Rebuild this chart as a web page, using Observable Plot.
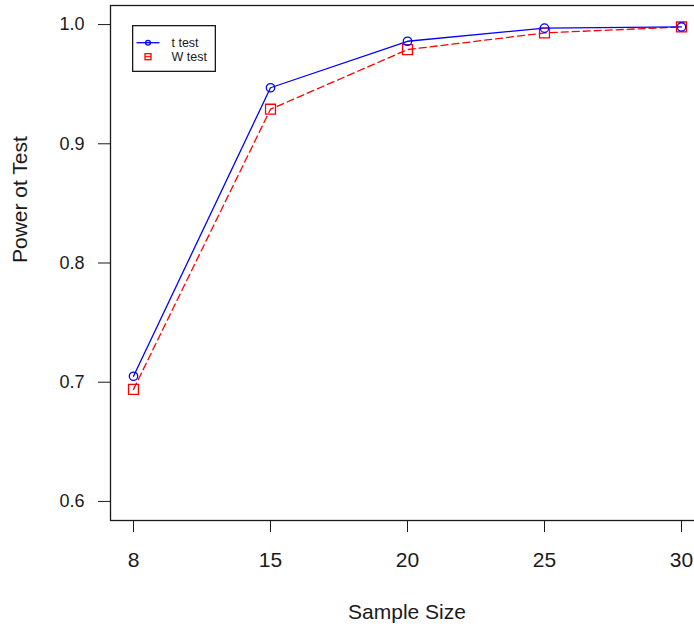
<!DOCTYPE html>
<html>
<head>
<meta charset="utf-8">
<script src="https://cdn.jsdelivr.net/npm/d3@7"></script>
<script src="https://cdn.jsdelivr.net/npm/@observablehq/plot@0.6"></script>
<style>
  html, body { margin: 0; padding: 0; background: #fff; }
  #wrap { position: relative; width: 694px; height: 630px; overflow: hidden; font-family: "Liberation Sans", Arial, sans-serif; }
  #legend { position: absolute; left: 132px; top: 25px; }
</style>
</head>
<body>
<div id="wrap"></div>
<script>
// Data
const sampleSizes = [8, 15, 20, 25, 30];
const tPower = [0.705, 0.947, 0.986, 0.997, 0.998];
const wPower = [0.694, 0.929, 0.979, 0.993, 0.998];
const yTicks = [0.6, 0.7, 0.8, 0.9, 1.0];

const rows = [];
sampleSizes.forEach((n, i) => {
  rows.push({n, power: tPower[i], test: "t test"});
  rows.push({n, power: wPower[i], test: "W test"});
});
const tRows = rows.filter(d => d.test === "t test");
const wRows = rows.filter(d => d.test === "W test");

const BLUE = "#0000ff", RED = "#ff0000", INK = "#1a1a1a";

const chart = Plot.plot({
  width: 694,
  height: 630,
  marginLeft: 110,
  marginRight: -9,
  marginTop: 5,
  marginBottom: 110,
  style: {fontFamily: "'Liberation Sans', Arial, sans-serif", color: INK, background: "#fff"},
  x: {type: "point", domain: sampleSizes, padding: 0.16},
  y: {domain: [0.584, 1.016]},
  marks: [
    Plot.frame({stroke: INK, strokeWidth: 1.3}),
    Plot.axisY({ticks: yTicks, tickFormat: d3.format(".1f"), tickSize: 12, tickPadding: 14, fontSize: 18, label: null, stroke: INK}),
    Plot.axisX({ticks: sampleSizes, tickSize: 12, tickPadding: 20, fontSize: 21, label: null, stroke: INK}),
    Plot.line(wRows, {x: "n", y: "power", stroke: RED, strokeWidth: 1.3, strokeDasharray: "7,4"}),
    Plot.line(tRows, {x: "n", y: "power", stroke: BLUE, strokeWidth: 1.3}),
    Plot.dot(wRows, {x: "n", y: "power", symbol: "square", r: 5.6, stroke: RED, strokeWidth: 1.3, fill: "none"}),
    Plot.dot(tRows, {x: "n", y: "power", symbol: "circle", r: 4.2, stroke: BLUE, strokeWidth: 1.3, fill: "none"}),
    Plot.text(["Sample Size"], {frameAnchor: "bottom", dy: 92, text: d => d, fontSize: 21, fill: INK, lineAnchor: "middle"}),
    Plot.text(["Power ot Test"], {frameAnchor: "left", dx: -90, rotate: -90, text: d => d, fontSize: 21, fill: INK, lineAnchor: "middle"})
  ]
});
document.getElementById("wrap").appendChild(chart);

// Legend (drawn as an overlay, like R's legend())
const legendItems = [
  {label: "t test", color: BLUE, symbol: "circle", dash: null},
  {label: "W test", color: RED, symbol: "square", dash: "7,4"}
];
const lw = 84, lh = 47;
const leg = d3.select("#wrap").append("svg")
  .attr("id", "legend").attr("width", lw + 1).attr("height", lh + 1);
leg.append("rect").attr("x", 0.65).attr("y", 0.65).attr("width", lw - 1.3).attr("height", lh - 1.3)
  .attr("fill", "#fff").attr("stroke", INK).attr("stroke-width", 1.3);
legendItems.forEach((it, i) => {
  const cy = 17.7 + i * 14;
  const g = leg.append("g");
  if (!it.dash) {
    g.append("line").attr("x1", 4.5).attr("x2", 27.5).attr("y1", cy).attr("y2", cy)
      .attr("stroke", it.color).attr("stroke-width", 1.3);
  } else {
    g.append("line").attr("x1", 13).attr("x2", 19).attr("y1", cy).attr("y2", cy)
      .attr("stroke", it.color).attr("stroke-width", 1.1);
  }
  if (it.symbol === "circle") {
    g.append("circle").attr("cx", 16).attr("cy", cy).attr("r", 2.4)
      .attr("fill", "none").attr("stroke", it.color).attr("stroke-width", 1.3);
  } else {
    g.append("rect").attr("x", 13).attr("y", cy - 3).attr("width", 6).attr("height", 6)
      .attr("fill", "none").attr("stroke", it.color).attr("stroke-width", 1.3);
  }
  g.append("text").attr("x", 39.5).attr("y", cy).attr("dy", "0.35em")
    .attr("font-size", 12.5).attr("fill", INK)
    .attr("font-family", "'Liberation Sans', Arial, sans-serif").text(it.label);
});
</script>
</body>
</html>
